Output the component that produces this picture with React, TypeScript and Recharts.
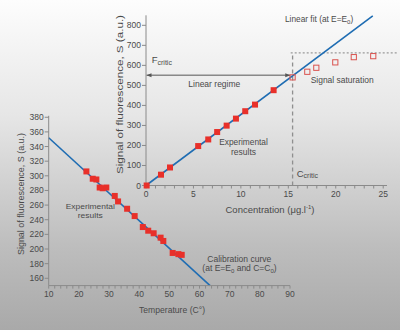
import { ComposedChart, Line, Scatter, XAxis, YAxis, ReferenceLine } from "recharts";

// concentration panel (top right)
const CONC_LINEAR = [0.07, 1.58, 2.53, 5.5, 6.56, 7.5, 8.5, 9.48, 10.46, 11.49, 13.45];
const SIGNAL_LINEAR = [0, 54, 90, 197, 230, 267, 299, 334, 371, 404, 476];
const CONC_SATURATED = [15.45, 17, 17.95, 19.95, 21.9, 23.95];
const SIGNAL_SATURATED = [540, 568, 588, 615, 641, 646];
const FIT_CONC = [0, 23.9];
const FIT_SIGNAL = [0, 847];
const C_CRITIC = 15.45;
const F_CRITIC = 551;
const SATURATION_LEVEL = 662;
const CONC_TICKS = [0, 1, 2, 3, 4, 5, 6, 7, 8, 9, 10, 11, 12, 13, 14, 15, 16, 17, 18, 19, 20, 21, 22, 23, 24, 25];
const CONC_LABELS = [0, 5, 10, 15, 20, 25];
const SIGNAL_TICKS = [0, 100, 200, 300, 400, 500, 600, 700, 800];

// temperature panel (bottom left)
const TEMP = [22.5, 24.6, 25.8, 26.9, 27.9, 29.1, 31.9, 33, 36, 38.5, 41.2, 43, 44.8, 47.1, 48, 51.1, 53, 54.1];
const SIGNAL_TEMP = [306, 296, 295, 284, 283, 284, 272.5, 265, 255, 245, 230, 225, 221.5, 215.5, 211, 194.6, 193, 192];
const CAL_TEMP = [10, 63.5];
const CAL_SIGNAL = [352, 150];
const TEMP_TICKS = [10, 12, 14, 16, 18, 20, 22, 24, 26, 28, 30, 32, 34, 36, 38, 40, 42, 44, 46, 48, 50, 52, 54, 56, 58, 60, 62, 64, 66, 68, 70, 72, 74, 76, 78, 80, 82, 84, 86, 88, 90];
const TEMP_LABELS = [10, 20, 30, 40, 50, 60, 70, 80, 90];
const SIGNAL_TEMP_TICKS = [160, 180, 200, 220, 240, 260, 280, 300, 320, 340, 360, 380];

const pair = (xs: number[], ys: number[]) => xs.map((x, i) => ({ x, y: ys[i] }));

const AXIS = "#8a8a8a";
const TEXT = "#4a4a4a";
const tickStyle = { fill: TEXT, fontSize: 8.5 };

const FilledSquare = (p: any) => (
  <rect x={p.cx - 3} y={p.cy - 3} width={6} height={6} fill="#e8302a" />
);
const OpenSquare = (p: any) => (
  <rect x={p.cx - 2.6} y={p.cy - 2.6} width={5.2} height={5.2} fill="none" stroke="#d9534f" strokeWidth={1} />
);

export default function App() {
  return (
    <div
      style={{
        position: "absolute",
        left: 0,
        top: 0,
        width: 400,
        height: 330,
        overflow: "hidden",
        background: "linear-gradient(to bottom, #fdfdfd 0%, #e6e6e6 35%, #bdbdbd 75%, #a9a9a9 100%)",
        fontFamily: "'Liberation Sans', Arial, sans-serif",
      }}
    >
      <svg width={0} height={0} style={{ position: "absolute" }}>
        <defs>
          <marker id="arrowHead" viewBox="0 0 10 10" refX="10" refY="5" markerWidth="6" markerHeight="5" orient="auto-start-reverse">
            <path d="M0,1 L10,5 L0,9 z" fill="#555" />
          </marker>
        </defs>
      </svg>

      {/* temperature panel */}
      <div style={{ position: "absolute", left: 0, top: 0 }}>
        <ComposedChart width={400} height={330} margin={{ top: 115.8, right: 110, bottom: 14.4, left: 8.7 }}>
          <XAxis
            type="number"
            dataKey="x"
            domain={[10, 90]}
            ticks={TEMP_TICKS}
            interval={0}
            tickFormatter={(v: number) => (TEMP_LABELS.includes(v) ? String(v) : "")}
            stroke={AXIS}
            tick={tickStyle}
            tickSize={3}
            tickMargin={2}
            height={30}
          />
          <YAxis
            type="number"
            dataKey="y"
            domain={[150, 382]}
            ticks={SIGNAL_TEMP_TICKS}
            interval={0}
            stroke={AXIS}
            tick={tickStyle}
            tickSize={4}
            tickMargin={1}
            width={40}
          />
          <Line data={pair(CAL_TEMP, CAL_SIGNAL)} dataKey="y" stroke="#1f6db3" strokeWidth={1.6} dot={false} isAnimationActive={false} />
          <Scatter data={pair(TEMP, SIGNAL_TEMP)} shape={FilledSquare} isAnimationActive={false} />
        </ComposedChart>
      </div>

      {/* concentration panel */}
      <div style={{ position: "absolute", left: 0, top: 0 }}>
        <ComposedChart width={400} height={330} margin={{ top: 15.3, right: 13, bottom: 114.5, left: 106 }}>
          <XAxis
            type="number"
            dataKey="x"
            domain={[0, 25.4]}
            ticks={CONC_TICKS}
            interval={0}
            tickFormatter={(v: number) => (CONC_LABELS.includes(v) ? String(v) : "")}
            stroke={AXIS}
            tick={tickStyle}
            tickSize={3}
            tickMargin={2}
            height={30}
          />
          <YAxis
            type="number"
            dataKey="y"
            domain={[0, 850]}
            ticks={SIGNAL_TICKS}
            interval={0}
            stroke={AXIS}
            tick={tickStyle}
            tickSize={4}
            tickMargin={1}
            width={40}
          />
          <ReferenceLine
            segment={[{ x: 15.25, y: SATURATION_LEVEL }, { x: 26.5, y: SATURATION_LEVEL }]}
            stroke="#9a9a9a"
            strokeDasharray="2 2"
            strokeWidth={1.2}
            ifOverflow="visible"
          />
          <ReferenceLine
            segment={[{ x: C_CRITIC, y: 0 }, { x: C_CRITIC, y: SATURATION_LEVEL }]}
            stroke="#8f8f8f"
            strokeDasharray="4 3"
            strokeWidth={1.3}
            ifOverflow="visible"
          />
          <ReferenceLine
            segment={[{ x: 0.05, y: F_CRITIC }, { x: 15.2, y: F_CRITIC }]}
            stroke="#555"
            strokeWidth={1}
            ifOverflow="visible"
            shape={(p: any) => (
              <line x1={p.x1} y1={p.y1} x2={p.x2} y2={p.y2} stroke="#555" strokeWidth={1} markerStart="url(#arrowHead)" markerEnd="url(#arrowHead)" />
            )}
          />
          <Line data={pair(FIT_CONC, FIT_SIGNAL)} dataKey="y" stroke="#1f6db3" strokeWidth={1.6} dot={false} isAnimationActive={false} />
          <Scatter data={pair(CONC_LINEAR, SIGNAL_LINEAR)} shape={FilledSquare} isAnimationActive={false} />
          <Scatter data={pair(CONC_SATURATED, SIGNAL_SATURATED)} shape={OpenSquare} isAnimationActive={false} />
        </ComposedChart>
      </div>

      {/* annotations */}
      <svg width={400} height={330} style={{ position: "absolute", left: 0, top: 0 }} fill={TEXT}>
        <g fontSize={9.5}>
          <text x={119.5} y={94.5} transform="rotate(-90 119.5 94.5)" textAnchor="middle" dominantBaseline="central" textLength={159} lengthAdjust="spacingAndGlyphs">
            Signal of fluorescence, S (a.u.)
          </text>
          <text x={270} y={212.5} textAnchor="middle">
            Concentration (μg.l<tspan fontSize={6} dy={-4}>-1</tspan><tspan dy={4}>)</tspan>
          </text>
          <text x={285} y={21.5} fontSize={8.3}>
            Linear fit (at E=E<tspan fontSize={6} dy={2}>0</tspan><tspan dy={-2}>)</tspan>
          </text>
          <text x={151.7} y={63.3}>
            F<tspan fontSize={7} dy={1.5}>critic</tspan>
          </text>
          <text x={296.7} y={176.7}>
            C<tspan fontSize={7} dy={1.5}>critic</tspan>
          </text>
          <text x={188.3} y={87} textLength={52} lengthAdjust="spacingAndGlyphs">Linear regime</text>
          <text x={310.7} y={82.5} textLength={63} lengthAdjust="spacingAndGlyphs">Signal saturation</text>
          <text x={243.5} y={145} fontSize={9} textAnchor="middle" textLength={48.7} lengthAdjust="spacingAndGlyphs">Experimental</text>
          <text x={243.5} y={154.5} fontSize={9} textAnchor="middle" textLength={25} lengthAdjust="spacingAndGlyphs">results</text>
        </g>
        <g fontSize={8.5}>
          <text x={21} y={194} transform="rotate(-90 21 194)" textAnchor="middle" dominantBaseline="central" textLength={122} lengthAdjust="spacingAndGlyphs">
            Signal of fluorescence, S (a.u.)
          </text>
          <text x={172} y={313} textAnchor="middle" textLength={66} lengthAdjust="spacingAndGlyphs">Temperature (C°)</text>
          <text x={90.3} y={208.8} fontSize={8} textAnchor="middle" textLength={49.3} lengthAdjust="spacingAndGlyphs">Experimental</text>
          <text x={90.3} y={218} fontSize={8} textAnchor="middle" textLength={25} lengthAdjust="spacingAndGlyphs">results</text>
          <text x={239.3} y={261.7} textAnchor="middle" textLength={64} lengthAdjust="spacingAndGlyphs">Calibration curve</text>
          <text x={239.5} y={270.7} textAnchor="middle">
            (at E=E<tspan fontSize={6} dy={2}>0</tspan><tspan dy={-2}> and C=C</tspan><tspan fontSize={6} dy={2}>0</tspan><tspan dy={-2}>)</tspan>
          </text>
        </g>
      </svg>
    </div>
  );
}
